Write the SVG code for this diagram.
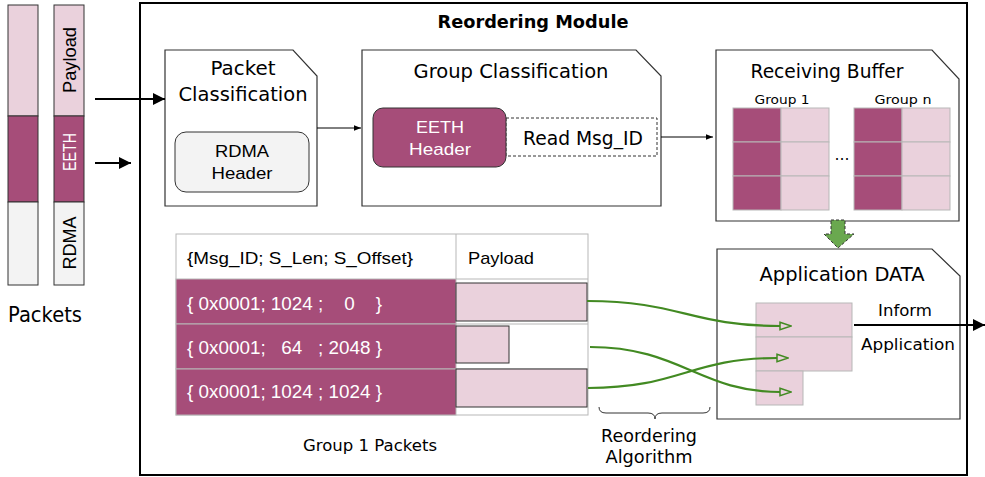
<svg xmlns="http://www.w3.org/2000/svg" width="985" height="477" viewBox="0 0 985 477">
  <defs>
    <style>
      .t { font-family: "DejaVu Sans", Verdana, sans-serif; fill: #000; }
      .a { font-family: "Liberation Sans", Arial, sans-serif; fill: #000; }
      .w { fill: #fff; }
      .box { fill: #fff; stroke: #333; stroke-width: 1.2; }
      .dark { fill: #a64d79; }
      .light { fill: #ead1dc; }
      .grey { fill: #f3f3f3; }
      .cell { stroke: #b7b7b7; stroke-width: 1; }
      .curve { fill: none; stroke: #428a22; stroke-width: 2.2; }
    </style>
    <marker id="arrowBlack" viewBox="0 0 10 10" refX="10" refY="5" markerWidth="6" markerHeight="6" markerUnits="strokeWidth" orient="auto">
      <path d="M0,0 L10,5 L0,10 Z" fill="#000"/>
    </marker>
    <marker id="arrowSmall" viewBox="0 0 10 10" refX="10" refY="5" markerWidth="8" markerHeight="7" markerUnits="strokeWidth" orient="auto">
      <path d="M0,1 L10,5 L0,9 Z" fill="#000"/>
    </marker>
    <marker id="arrowOpen" viewBox="0 0 14 10" refX="1" refY="5" markerWidth="6" markerHeight="4.3" markerUnits="strokeWidth" orient="auto">
      <path d="M1,1 L13,5 L1,9 Z" fill="#ead1dc" stroke="#428a22" stroke-width="1.6"/>
    </marker>
  </defs>

  <!-- incoming packet layout -->
  <g id="packets">
    <rect class="light" x="8" y="5" width="30" height="111" stroke="#333" stroke-width="1"/>
    <rect class="dark" x="8" y="116" width="30" height="86" stroke="#333" stroke-width="1"/>
    <rect class="grey" x="8" y="202" width="30" height="83" stroke="#333" stroke-width="1"/>
    <rect class="light" x="54" y="5" width="30" height="111" stroke="#333" stroke-width="1"/>
    <rect class="dark" x="54" y="116" width="30" height="86" stroke="#333" stroke-width="1"/>
    <rect class="grey" x="54" y="202" width="30" height="83" stroke="#333" stroke-width="1"/>
    <text class="a" font-size="18" text-anchor="middle" textLength="66" lengthAdjust="spacingAndGlyphs" transform="translate(76,60) rotate(-90)">Payload</text>
    <text class="a w" font-size="18" text-anchor="middle" textLength="38" lengthAdjust="spacingAndGlyphs" transform="translate(76,152) rotate(-90)">EETH</text>
    <text class="a" font-size="18" text-anchor="middle" textLength="53" lengthAdjust="spacingAndGlyphs" transform="translate(76,243) rotate(-90)">RDMA</text>
    <text class="t" x="45" y="322" font-size="21" text-anchor="middle" textLength="74" lengthAdjust="spacingAndGlyphs">Packets</text>
  </g>

  <!-- module frame -->
  <g id="reordering-module">
    <rect x="140" y="3" width="827" height="472" fill="none" stroke="#000" stroke-width="2"/>
    <text class="t" x="533" y="28" font-size="18" font-weight="bold" text-anchor="middle" textLength="191" lengthAdjust="spacingAndGlyphs">Reordering Module</text>
  </g>

  <g id="packet-classification">
    <path class="box" d="M165,50 H293 L317,76 V206 H165 Z"/>
    <text class="t" x="243" y="75" font-size="20" text-anchor="middle" textLength="65" lengthAdjust="spacingAndGlyphs">Packet</text>
    <text class="t" x="243" y="101" font-size="20" text-anchor="middle" textLength="129" lengthAdjust="spacingAndGlyphs">Classification</text>
    <rect x="175" y="132" width="134" height="60" rx="11" fill="#f3f3f3" stroke="#333" stroke-width="1"/>
    <text class="a" x="242" y="157" font-size="17" text-anchor="middle" textLength="54" lengthAdjust="spacingAndGlyphs">RDMA</text>
    <text class="a" x="242" y="179" font-size="17" text-anchor="middle" textLength="61" lengthAdjust="spacingAndGlyphs">Header</text>
  </g>

  <g id="group-classification">
    <path class="box" d="M362,50 H636 L661,76 V206 H362 Z"/>
    <text class="t" x="511" y="78" font-size="19" text-anchor="middle" textLength="195" lengthAdjust="spacingAndGlyphs">Group Classification</text>
    <rect x="506" y="118" width="151" height="38" fill="#fff" stroke="#333" stroke-width="1" stroke-dasharray="3,2"/>
    <rect x="373" y="108" width="133" height="59" rx="10" class="dark" stroke="#333" stroke-width="1"/>
    <text class="a w" x="440" y="133" font-size="17" text-anchor="middle" textLength="48" lengthAdjust="spacingAndGlyphs">EETH</text>
    <text class="a w" x="440" y="155" font-size="17" text-anchor="middle" textLength="62" lengthAdjust="spacingAndGlyphs">Header</text>
    <text class="t" x="583" y="145" font-size="19" text-anchor="middle" textLength="120" lengthAdjust="spacingAndGlyphs">Read Msg_ID</text>
  </g>

  <g id="receiving-buffer">
    <path class="box" d="M716,50 H932 L959,79 V221 H716 Z"/>
    <text class="t" x="827" y="78" font-size="19" text-anchor="middle" textLength="153" lengthAdjust="spacingAndGlyphs">Receiving Buffer</text>
    <text class="t" x="782" y="104" font-size="13" text-anchor="middle" textLength="55" lengthAdjust="spacingAndGlyphs">Group 1</text>
    <text class="t" x="903" y="104" font-size="13" text-anchor="middle" textLength="57" lengthAdjust="spacingAndGlyphs">Group n</text>
    <g class="cell">
      <rect class="dark" x="733" y="108" width="48" height="34"/>
      <rect class="light" x="781" y="108" width="48" height="34"/>
      <rect class="dark" x="733" y="142" width="48" height="34"/>
      <rect class="light" x="781" y="142" width="48" height="34"/>
      <rect class="dark" x="733" y="176" width="48" height="34"/>
      <rect class="light" x="781" y="176" width="48" height="34"/>
      <rect class="dark" x="854" y="108" width="48" height="34"/>
      <rect class="light" x="902" y="108" width="48" height="34"/>
      <rect class="dark" x="854" y="142" width="48" height="34"/>
      <rect class="light" x="902" y="142" width="48" height="34"/>
      <rect class="dark" x="854" y="176" width="48" height="34"/>
      <rect class="light" x="902" y="176" width="48" height="34"/>
    </g>
    <text class="t" x="842" y="160" font-size="15" text-anchor="middle">…</text>
  </g>

  <g id="application-data">
    <path class="box" d="M717,249 H932 L960,276 V419 H717 Z"/>
    <text class="t" x="842" y="281" font-size="19" text-anchor="middle" textLength="165" lengthAdjust="spacingAndGlyphs">Application DATA</text>
    <g class="cell">
      <rect class="light" x="756" y="303" width="96" height="34"/>
      <rect class="light" x="756" y="337" width="96" height="34"/>
      <rect class="light" x="756" y="371" width="47" height="34"/>
    </g>
    <text class="t" x="905" y="316" font-size="16" text-anchor="middle" textLength="54" lengthAdjust="spacingAndGlyphs">Inform</text>
    <text class="t" x="908" y="350" font-size="16" text-anchor="middle" textLength="94" lengthAdjust="spacingAndGlyphs">Application</text>
  </g>

  <g id="group1-packets">
    <rect x="176" y="234" width="412" height="181" fill="#fff" stroke="#b7b7b7" stroke-width="1"/>
    <line x1="456" y1="234" x2="456" y2="279" stroke="#b7b7b7"/>
    <g class="cell">
      <rect class="dark" x="176" y="279" width="280" height="45"/>
      <rect class="dark" x="176" y="324" width="280" height="45"/>
      <rect class="dark" x="176" y="369" width="280" height="46"/>
    </g>
    <line x1="456" y1="279" x2="588" y2="279" stroke="#b7b7b7"/>
    <line x1="456" y1="324" x2="588" y2="324" stroke="#b7b7b7"/>
    <line x1="456" y1="369" x2="588" y2="369" stroke="#b7b7b7"/>
    <rect class="light" x="456" y="283" width="131" height="38" stroke="#333" stroke-width="1"/>
    <rect class="light" x="456" y="326" width="53" height="37" stroke="#333" stroke-width="1"/>
    <rect class="light" x="456" y="369" width="131" height="38" stroke="#333" stroke-width="1"/>
    <text class="a" x="187" y="264" font-size="17" textLength="226" lengthAdjust="spacingAndGlyphs">{Msg_ID; S_Len; S_Offset}</text>
    <text class="a" x="468" y="264" font-size="17" textLength="66" lengthAdjust="spacingAndGlyphs">Payload</text>
    <text class="a w" x="187" y="310" font-size="18" xml:space="preserve" textLength="195" lengthAdjust="spacingAndGlyphs">{ 0x0001; 1024 ;    0    }</text>
    <text class="a w" x="187" y="354" font-size="18" xml:space="preserve" textLength="195" lengthAdjust="spacingAndGlyphs">{ 0x0001;   64   ; 2048 }</text>
    <text class="a w" x="187" y="398" font-size="18" xml:space="preserve" textLength="195" lengthAdjust="spacingAndGlyphs">{ 0x0001; 1024 ; 1024 }</text>
    <text class="t" x="370" y="451" font-size="15" text-anchor="middle" textLength="134" lengthAdjust="spacingAndGlyphs">Group 1 Packets</text>
  </g>

  <g id="reordering-algorithm">
    <path d="M599,407 Q599,413 606,413 L648,413 Q655,413 655,419 Q655,413 662,413 L703,413 Q710,413 710,407" fill="none" stroke="#333" stroke-width="1"/>
    <text class="t" x="649" y="442" font-size="17" text-anchor="middle" textLength="96" lengthAdjust="spacingAndGlyphs">Reordering</text>
    <text class="t" x="649" y="463" font-size="17" text-anchor="middle" textLength="87" lengthAdjust="spacingAndGlyphs">Algorithm</text>
  </g>

  <!-- connectors -->
  <g id="connectors">
    <line x1="95" y1="99" x2="165" y2="99" stroke="#000" stroke-width="2" marker-end="url(#arrowBlack)"/>
    <line x1="95" y1="163" x2="131" y2="163" stroke="#000" stroke-width="2" marker-end="url(#arrowBlack)"/>
    <line x1="317" y1="128" x2="361" y2="128" stroke="#000" stroke-width="1" marker-end="url(#arrowSmall)"/>
    <line x1="661" y1="137" x2="713" y2="137" stroke="#000" stroke-width="1" marker-end="url(#arrowSmall)"/>
    <polygon points="831,220 845,220 845,234 854,234 838,248 824,234 831,234" fill="#6aa84f" stroke="#333" stroke-width="1" stroke-dasharray="3,2"/>
    <path class="curve" d="M587,301 C680,301 690,326 780,326" marker-end="url(#arrowOpen)"/>
    <path class="curve" d="M590,347 C680,347 700,392 780,392" marker-end="url(#arrowOpen)"/>
    <path class="curve" d="M588,388 C680,388 690,358 777,358" marker-end="url(#arrowOpen)"/>
    <line x1="854" y1="325" x2="985" y2="325" stroke="#000" stroke-width="2" marker-end="url(#arrowBlack)"/>
  </g>
</svg>
